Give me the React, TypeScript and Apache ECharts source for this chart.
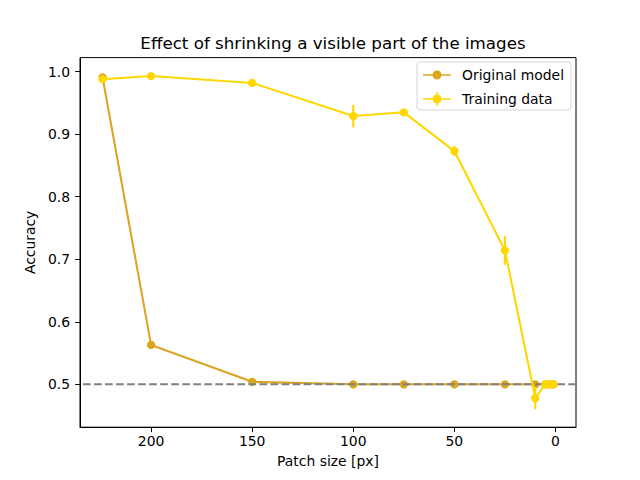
import React, { useEffect, useRef } from "react";
import * as echarts from "echarts";

const xValues = [224, 200, 150, 100, 75, 50, 25, 10, 5, 3, 1];
const originalAcc = [0.991, 0.563, 0.504, 0.5, 0.5, 0.5, 0.5, 0.5, 0.5, 0.5, 0.5];
const trainingAcc = [0.988, 0.993, 0.982, 0.929, 0.935, 0.873, 0.714, 0.478, 0.5, 0.5, 0.5];
const trainingErr = [0.003, 0.003, 0.004, 0.018, 0.004, 0.008, 0.023, 0.018, 0.002, 0.002, 0.002];
const xTicks = [0, 50, 100, 150, 200];
const yTicks = [0.5, 0.6, 0.7, 0.8, 0.9, 1.0];
const chanceLevel = 0.5;
const xLimits = [-10.15, 235.15];
const yLimits = [0.4314, 1.0225];

const ORIG_COLOR = "#DAA520";
const TRAIN_COLOR = "#FFD700";
const FONT = "DejaVu Sans";

const iconTrain =
  "path://M0,6.3 L28,6.3 L28,7.7 L0,7.7 Z M13.3,0 L14.7,0 L14.7,14 L13.3,14 Z M14,2.5 A4.5,4.5 0 1,1 14,11.5 A4.5,4.5 0 1,1 14,2.5 Z";
const iconOrig =
  "path://M0,0 L0.05,0 L0.05,0.05 Z M27.95,13.95 L28,13.95 L28,14 Z M0,6.3 L28,6.3 L28,7.7 L0,7.7 Z M14,2.5 A4.5,4.5 0 1,1 14,11.5 A4.5,4.5 0 1,1 14,2.5 Z";

export default function App() {
  const ref = useRef<HTMLDivElement>(null);
  useEffect(() => {
    document.body.style.margin = "0";
    if (!ref.current) return;
    const chart = echarts.init(ref.current, undefined, { renderer: "svg" });
    const origData = xValues.map((x, i) => [x, originalAcc[i]]);
    const trainData = xValues.map((x, i) => [x, trainingAcc[i]]);
    const errData = xValues.map((x, i) => [x, trainingAcc[i], trainingErr[i]]);
    const chanceData = xLimits.map((x) => [x, chanceLevel]);
    const option: any = {
      animation: false,
      backgroundColor: "#ffffff",
      textStyle: { fontFamily: FONT },
      title: {
        text: "Effect of shrinking a visible part of the images",
        left: 328,
        textAlign: "center",
        top: 29,
        textStyle: { fontFamily: FONT, fontSize: 16.7, fontWeight: "normal", color: "#000" },
      },
      grid: {
        left: 80,
        right: 64,
        top: 57.6,
        bottom: 52.8,
        show: true,
        borderColor: "#000",
        borderWidth: 1,
        backgroundColor: "transparent",
      },
      legend: {
        orient: "vertical",
        left: 417,
        top: 62,
        padding: [6, 7, 4, 6],
        itemGap: 10,
        itemWidth: 28,
        itemHeight: 14,
        backgroundColor: "rgba(255,255,255,0.8)",
        borderColor: "#d6d6d6",
        borderWidth: 1,
        borderRadius: 3,
        selectedMode: false,
        textStyle: { fontFamily: FONT, fontSize: 13.9, color: "#000", padding: [0, 0, 0, 6] },
        data: [
          { name: "Original model", icon: iconOrig, itemStyle: { color: ORIG_COLOR } },
          { name: "Training data", icon: iconTrain, itemStyle: { color: TRAIN_COLOR } },
        ],
      },
      xAxis: {
        type: "value",
        inverse: true,
        min: xLimits[0],
        max: xLimits[1],
        name: "Patch size [px]",
        nameLocation: "middle",
        nameGap: 27,
        nameTextStyle: { fontFamily: FONT, fontSize: 13.9, color: "#000" },
        axisLine: { show: true, onZero: false, lineStyle: { color: "#000", width: 1 } },
        axisTick: { show: true, length: 4.9, customValues: xTicks, lineStyle: { color: "#000", width: 1 } },
        axisLabel: {
          customValues: xTicks,
          margin: 7,
          fontFamily: FONT,
          fontSize: 13.9,
          color: "#000",
          formatter: (v: number) => String(v),
        },
        splitLine: { show: false },
      },
      yAxis: {
        type: "value",
        min: yLimits[0],
        max: yLimits[1],
        name: "Accuracy",
        nameLocation: "middle",
        nameGap: 36,
        nameTextStyle: { fontFamily: FONT, fontSize: 13.9, color: "#000" },
        axisLine: { show: true, onZero: false, lineStyle: { color: "#000", width: 1 } },
        axisTick: { show: true, length: 4.9, customValues: yTicks, lineStyle: { color: "#000", width: 1 } },
        axisLabel: {
          customValues: yTicks,
          margin: 10,
          fontFamily: FONT,
          fontSize: 13.9,
          color: "#000",
          formatter: (v: number) => v.toFixed(1),
        },
        splitLine: { show: false },
      },
      series: [
        {
          name: "Original model",
          type: "line",
          data: origData,
          color: ORIG_COLOR,
          symbol: "circle",
          symbolSize: 8.3,
          lineStyle: { width: 2.08, color: ORIG_COLOR },
          itemStyle: { color: ORIG_COLOR },
          z: 2,
        },
        {
          name: "chance",
          type: "line",
          data: chanceData,
          symbol: "none",
          silent: true,
          z: 3,
          lineStyle: { color: "#808080", width: 2.08, type: [7.7, 3.33], opacity: 1 },
        },
        {
          name: "Training data",
          type: "custom",
          data: errData,
          z: 4,
          renderItem: (params: any, api: any) => {
            const x = api.value(0);
            const y = api.value(1);
            const e = api.value(2);
            const p1 = api.coord([x, y - e]);
            const p2 = api.coord([x, y + e]);
            return {
              type: "line",
              shape: { x1: p1[0], y1: p1[1], x2: p2[0], y2: p2[1] },
              style: { stroke: TRAIN_COLOR, lineWidth: 2.08 },
            };
          },
        },
        {
          name: "Training data",
          type: "line",
          data: trainData,
          color: TRAIN_COLOR,
          symbol: "circle",
          symbolSize: 8.3,
          lineStyle: { width: 2.08, color: TRAIN_COLOR },
          itemStyle: { color: TRAIN_COLOR },
          z: 5,
        },
      ],
    };
    chart.setOption(option);
    return () => chart.dispose();
  }, []);
  return <div ref={ref} style={{ width: 640, height: 480 }} />;
}
